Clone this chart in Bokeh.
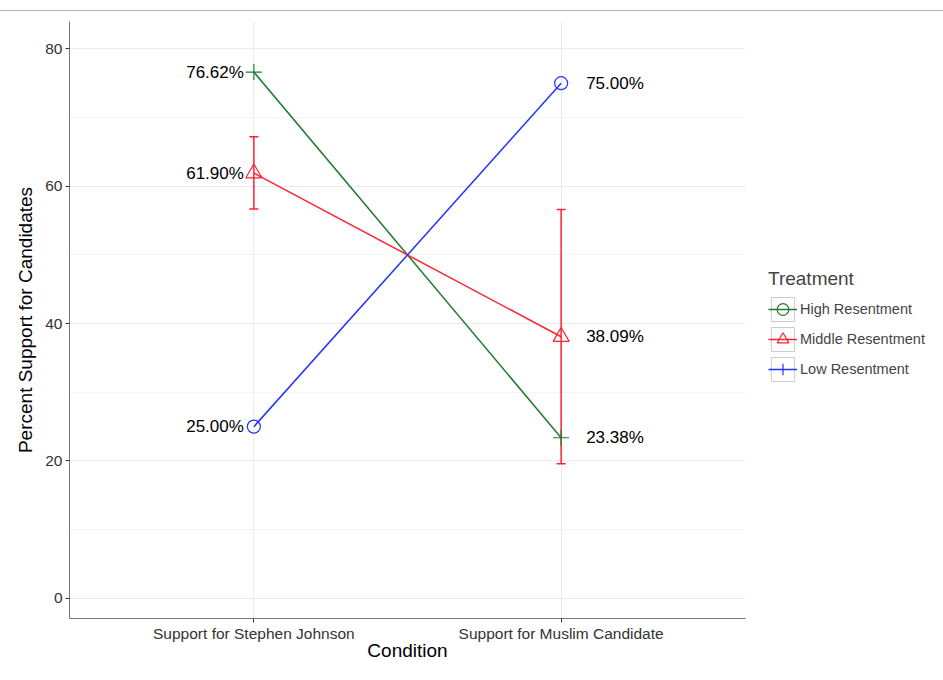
from bokeh.plotting import figure
from bokeh.models import (ColumnDataSource, Range1d, FixedTicker, SingleIntervalTicker,
                          Whisker, TeeHead, Legend, LegendItem)
from bokeh.core.properties import value
from bokeh.embed import file_html
from bokeh.resources import INLINE

# ---- data ----
conditions = ["Support for Stephen Johnson", "Support for Muslim Candidate"]
cond_pos = [1, 2]
high = [76.62, 23.38]
middle = [61.90, 38.09]
low = [25.00, 75.00]
middle_lower = [56.70, 19.60]
middle_upper = [67.20, 56.60]
series_names = ["High Resentment", "Middle Resentment", "Low Resentment"]

GREEN = "#1f7a30"
RED = "#ff2233"
BLUE = "#2233ff"
FONT = "Liberation Sans"

p = figure(frame_width=676, frame_height=597, output_backend="svg", toolbar_location=None,
           x_range=Range1d(0.4, 2.6), y_range=Range1d(-2.93, 83.98),
           min_border_left=69, min_border_right=182, min_border_top=21,
           min_border_bottom=0)
p.background_fill_color = "white"
p.border_fill_alpha = 0
p.outline_line_color = None
# thin grey rule across the top of the page, as in the original screenshot
p.styles = {
    "background-color": "white",
    "background-image": "linear-gradient(#b4b4b4, #b4b4b4)",
    "background-size": "100% 1px",
    "background-position": "0 10px",
    "background-repeat": "no-repeat",
}

# grids
p.xaxis.ticker = FixedTicker(ticks=cond_pos)
p.xaxis.major_label_overrides = {cond_pos[i]: conditions[i] for i in range(len(conditions))}
p.yaxis.ticker = SingleIntervalTicker(interval=20, num_minor_ticks=2)
p.xgrid.grid_line_color = "#ebebeb"
p.ygrid.grid_line_color = "#ebebeb"
p.ygrid.minor_grid_line_color = "#f4f4f4"

for ax in (p.xaxis, p.yaxis):
    ax.axis_line_color = "#777777"
    ax.major_tick_line_color = "#333333"
    ax.major_tick_in = 0
    ax.major_tick_out = 4
    ax.minor_tick_line_color = None
    ax.major_label_text_font = FONT
    ax.major_label_text_font_size = "15.5px"
    ax.major_label_text_color = "#333333"
    ax.axis_label_text_font = FONT
    ax.axis_label_text_font_size = "19px"
    ax.axis_label_text_font_style = "normal"
    ax.axis_label_text_color = "black"

p.xaxis.axis_label = "Condition"
p.yaxis.axis_label = "Percent Support for Candidates"
p.xaxis.major_label_standoff = 2
p.xaxis.axis_label_standoff = -5
p.yaxis.major_label_standoff = 3
p.yaxis.axis_label_standoff = 6

src_high = ColumnDataSource(dict(x=cond_pos, y=high))
src_mid = ColumnDataSource(dict(x=cond_pos, y=middle, lower=middle_lower, upper=middle_upper))
src_low = ColumnDataSource(dict(x=cond_pos, y=low))

# error bars
wh = Whisker(base="x", upper="upper", lower="lower", source=src_mid,
             line_color=RED, line_width=1.5,
             upper_head=TeeHead(size=9, line_color=RED, line_width=1.5),
             lower_head=TeeHead(size=9, line_color=RED, line_width=1.5))
p.add_layout(wh)

# lines and markers (as in the original: green '+', red triangle, blue circle)
p.line("x", "y", source=src_high, line_color=GREEN, line_width=1.5)
p.scatter("x", "y", source=src_high, marker="cross", size=16, line_color=GREEN, line_width=1.2)
p.line("x", "y", source=src_mid, line_color=RED, line_width=1.5)
p.scatter("x", "y", source=src_mid, marker="triangle", size=16, fill_color=None,
          line_color=RED, line_width=1.2)
p.line("x", "y", source=src_low, line_color=BLUE, line_width=1.5)
p.scatter("x", "y", source=src_low, marker="circle", size=13, fill_color=None,
          line_color=BLUE, line_width=1.2)

# value labels
all_vals = [high, middle, low]
left_src = ColumnDataSource(dict(x=[cond_pos[0]] * 3, y=[v[0] for v in all_vals],
                                 t=["%.2f%%" % v[0] for v in all_vals]))
right_src = ColumnDataSource(dict(x=[cond_pos[1]] * 3, y=[v[1] for v in all_vals],
                                  t=["%.2f%%" % v[1] for v in all_vals]))
p.text("x", "y", text="t", source=left_src, text_align="right", text_baseline="middle",
       x_offset=-10, text_font=value(FONT), text_font_size="17px", text_color="black")
p.text("x", "y", text="t", source=right_src, text_align="left", text_baseline="middle",
       x_offset=25, text_font=value(FONT), text_font_size="17px", text_color="black")

# legend keys (as in the original legend); NaN placeholders draw nothing in the plot
nan = float("nan")
def key_src():
    return ColumnDataSource(dict(x=[nan], y=[nan]))
box = p.rect(x="x", y="y", width=1, height=1, source=key_src(),
             fill_color=None, line_color="#cccccc", line_width=1)
lg_g = p.line(x="x", y="y", source=key_src(), line_color=GREEN, line_width=1.5)
mk_g = p.scatter(x="x", y="y", source=key_src(), marker="circle",
                 fill_color=None, line_color=GREEN, line_width=1.2)
lg_r = p.line(x="x", y="y", source=key_src(), line_color=RED, line_width=1.5)
mk_r = p.scatter(x="x", y="y", source=key_src(), marker="triangle",
                 fill_color=None, line_color=RED, line_width=1.2)
lg_b = p.line(x="x", y="y", source=key_src(), line_color=BLUE, line_width=1.5)
mk_b = p.scatter(x="x", y="y", source=key_src(), marker="cross",
                 line_color=BLUE, line_width=1.2)

legend = Legend(items=[
    LegendItem(label=series_names[0], renderers=[box, lg_g, mk_g]),
    LegendItem(label=series_names[1], renderers=[box, lg_r, mk_r]),
    LegendItem(label=series_names[2], renderers=[box, lg_b, mk_b]),
], location=(23, 234), title="Treatment")
legend.title_text_font = FONT
legend.title_text_font_size = "19px"
legend.title_text_font_style = "normal"
legend.title_standoff = 4
legend.label_text_font = FONT
legend.label_text_font_size = "14.5px"
legend.label_standoff = 3
legend.glyph_width = 29
legend.glyph_height = 30
legend.spacing = 0
legend.padding = 0
legend.margin = 0
legend.border_line_color = None
legend.background_fill_alpha = 0
p.add_layout(legend, "right")

open("out.html", "w").write(file_html(p, INLINE))
